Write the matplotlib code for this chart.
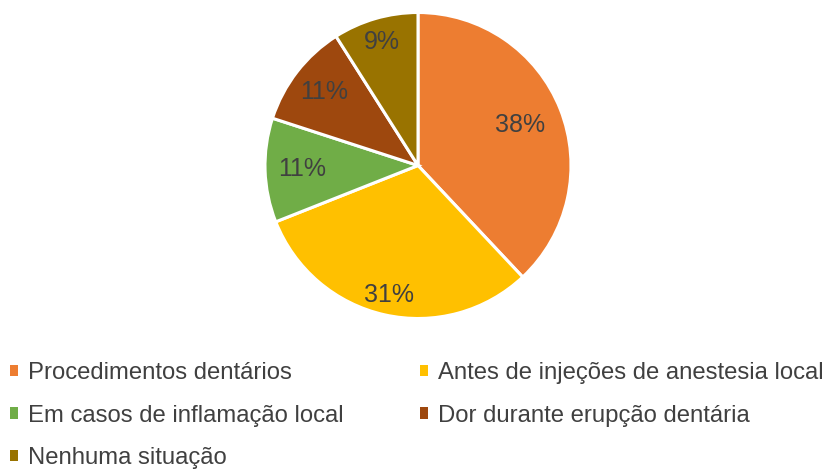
import matplotlib
matplotlib.use("Agg")
from matplotlib import pyplot as plt
from matplotlib.patches import Patch
import numpy as np

categories = ['Procedimentos dentários', 'Antes de injeções de anestesia local',
              'Em casos de inflamação local', 'Dor durante erupção dentária',
              'Nenhuma situação']
values = [38, 31, 11, 11, 9]
colors = ['#ED7D31', '#FFC000', '#70AD47', '#9E480E', '#997300']
label_r = [0.72, 0.87, 0.76, 0.78, 0.84]

plt.rcParams['font.family'] = ['Liberation Sans', 'DejaVu Sans']
text_color = '#404040'

fig = plt.figure(figsize=(8.34, 4.70), dpi=100)
cx, cy = 418 / 834, 1 - 165.5 / 470
w, h = 306 / 834, 306 / 470
ax = fig.add_axes([cx - w / 2, cy - h / 2, w, h])

wedges, _ = ax.pie(values, colors=colors, startangle=90, counterclock=False,
                   wedgeprops=dict(edgecolor='white', linewidth=2.2))
for wdg, v, r in zip(wedges, values, label_r):
    ang = np.deg2rad((wdg.theta1 + wdg.theta2) / 2)
    ax.text(r * np.cos(ang), r * np.sin(ang), f'{v}%', ha='center', va='center',
            fontsize=18, color=text_color)
ax.set_xlim(-1.0, 1.0)
ax.set_ylim(-1.0, 1.0)
ax.set_aspect('equal')
ax.axis('off')

# legend: row-major in reference, matplotlib fills columns first
order = [0, 2, 4, 1, 3]
handles = [Patch(facecolor=colors[i], edgecolor='none') for i in order]
labels = [categories[i] for i in order]
fig.legend(handles, labels, ncol=2, loc='upper left', bbox_to_anchor=(0.0, 0.25),
           frameon=False, fontsize=17.2, labelcolor=text_color,
           handlelength=0.35, handleheight=0.35, handletextpad=0.42,
           columnspacing=3.2, labelspacing=0.86, borderaxespad=0)

fig.savefig('out.png', dpi=100)
